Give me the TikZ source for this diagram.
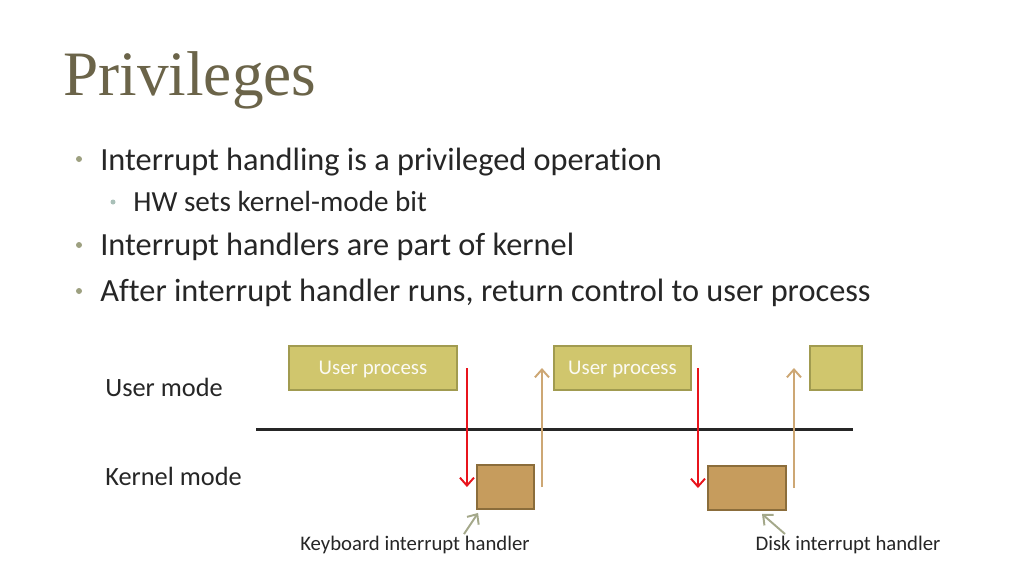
\documentclass[tikz,border=0pt]{standalone}
\usepackage{fontspec}
\setmainfont{Carlito}[Ligatures=NoCommon]
\newfontfamily\titlefont{Liberation Serif}
\usepackage{xcolor}
\usetikzlibrary{calc,arrows.meta}

\definecolor{titlebrown}{HTML}{6B6449}
\definecolor{bodytext}{HTML}{262626}
\definecolor{dotolive}{HTML}{9DA080}
\definecolor{dotteal}{HTML}{A9C0B8}
\definecolor{userfill}{HTML}{D0C66D}
\definecolor{userline}{HTML}{A19B50}
\definecolor{kernfill}{HTML}{C69C5D}
\definecolor{kernline}{HTML}{8B6D3B}
\definecolor{irqred}{HTML}{E8141C}
\definecolor{backtan}{HTML}{CDA774}
\definecolor{pointgray}{HTML}{A4A88A}

\pgfdeclareradialshading{vignette}{\pgfpoint{0bp}{0bp}}{color(0bp)=(white); color(47bp)=(white); color(71bp)=(black!15)}

\begin{document}
\begin{tikzpicture}[
		x=0.02cm, y=-0.02cm,
		bullet/.style={
			font=\fontsize{18.4}{22}\selectfont,
			color=bodytext,
			anchor=base west,
			inner sep=0pt
			},
		subbullet/.style={
			bullet,
			font=\fontsize{16.6}{20}\selectfont
			},
		userbox/.style={
			draw=userline,
			fill=userfill,
			line width=1.1pt,
			minimum height=0.88cm,
			inner sep=0pt,
			text depth=0pt,
			text=white!92!userfill,
			font=\fontsize{11.9}{14}\selectfont
			},
		kernbox/.style={
			draw=kernline,
			fill=kernfill,
			line width=1.1pt,
			minimum height=0.88cm,
			inner sep=0pt
			},
		modelabel/.style={
			font=\fontsize{15}{18}\selectfont,
			color=bodytext,
			anchor=base west,
			inner sep=0pt
			},
		handlerlabel/.style={
			font=\fontsize{11.8}{14}\selectfont,
			color=bodytext,
			inner sep=0pt
			},
		irq/.style={
			draw=irqred,
			line width=1.1pt,
			-{Straight Barb[length=4.5pt,width=8pt]}
			},
		iret/.style={
			draw=backtan,
			line width=1.1pt,
			-{Straight Barb[length=4.5pt,width=8pt]}
			},
		pointer/.style={
			draw=pointgray,
			line width=1.1pt,
			-{Straight Barb[length=4.5pt,width=8pt]}
			}
		]
		
		\shade[shading=vignette] (0,0) rectangle (1024,576);
		\useasboundingbox (0,0) rectangle (1024,576);
		
		% title and bullets
		\node[font=\titlefont\fontsize{36}{40}\selectfont, color=titlebrown, anchor=base west, inner sep=0pt] (title) at (63,95) {Privileges};
		
		\fill[dotolive] (79,159) circle (3);
		\node[bullet] (b1) at (100,170) {Interrupt handling is a privileged operation};
		\fill[dotteal] (113,202) circle (2.5);
		\node[subbullet] (b1a) at (133,211) {HW sets kernel-mode bit};
		\fill[dotolive] (79,245) circle (3);
		\node[bullet] (b2) at (100,255) {Interrupt handlers are part of kernel};
		\fill[dotolive] (79,291) circle (3);
		\node[bullet] (b3) at (100,301) {After interrupt handler runs, return control to user process};
		
		% modes
		\node[modelabel] (usermode) at (105,396) {User mode};
		\node[modelabel] (kernelmode) at (105,485) {Kernel mode};
		
		\coordinate (divl) at (256,429);
		\coordinate (divr) at (853,429);
		\draw[line width=1.7pt, color=black!85] (divl) -- (divr);
		
		% boxes
		\node[userbox, minimum width=3.36cm] (up1) at (373,368) {User process};
		\node[userbox, minimum width=2.74cm] (up2) at (622.5,368) {User process};
		\node[userbox, minimum width=1.04cm] (up3) at (836,368) {};
		
		\node[kernbox, minimum width=1.14cm] (kh1) at (505.5,487) {};
		\node[kernbox, minimum width=1.56cm] (kh2) at (747,488) {};
		
		% switches
		\coordinate (irq1) at ($(up1.east)+(9,0)$);
		\draw[irq] (irq1) -- (irq1 |- kh1.west);
		\coordinate (ret1) at ($(kh1.east)+(7,0)$);
		\draw[iret] (ret1) -- (ret1 |- up2.west);
		\coordinate (irq2) at ($(up2.east)+(6,0)$);
		\draw[irq] (irq2) -- (irq2 |- kh2.west);
		\coordinate (ret2) at ($(kh2.east)+(7,0)$);
		\draw[iret] (ret2) -- (ret2 |- up3.west);
		
		% handler labels
		\node[handlerlabel] (kbdlabel) at (415,545) {Keyboard interrupt handler};
		\node[handlerlabel] (disklabel) at (848,545) {Disk interrupt handler};
		\coordinate (kbdtail) at (464,534);
		\coordinate (disktail) at (785,534);
		\draw[pointer] (kbdtail) -- ($(kh1.south west)+(2,3)$);
		\draw[pointer] (disktail) -- ($(kh2.south)+(15,3)$);
	\end{tikzpicture}
\end{document}
